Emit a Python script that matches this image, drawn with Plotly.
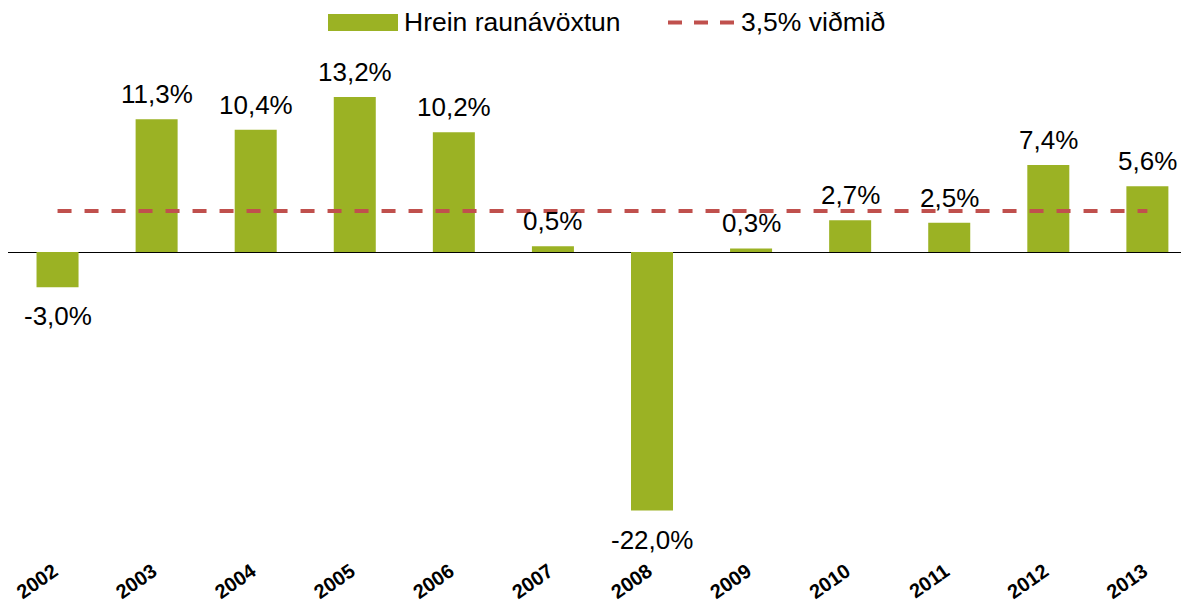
import plotly.graph_objects as go

years = ["2002", "2003", "2004", "2005", "2006", "2007", "2008", "2009", "2010", "2011", "2012", "2013"]
returns = [-3.0, 11.3, 10.4, 13.2, 10.2, 0.5, -22.0, 0.3, 2.7, 2.5, 7.4, 5.6]
benchmark = [3.5] * len(years)
labels = ["-3,0%", "11,3%", "10,4%", "13,2%", "10,2%", "0,5%", "-22,0%", "0,3%", "2,7%", "2,5%", "7,4%", "5,6%"]
series_names = ["Hrein raunávöxtun", "3,5% viðmið"]

OFF = 8  # page body margin
W, H = 1189 - OFF, 603 - OFF
ML, MR, MT, MB = 0, 0, 42, 48
pw = W - ML - MR
ph = H - MT - MB
zero_px = 252 - OFF
ppu = 11.75
ymax = (zero_px - MT) / ppu
ymin = -(H - MB - zero_px) / ppu

GREEN = "#9BB224"
RED = "#C0504D"
FONT = "Arial, Liberation Sans, sans-serif"

xs = list(range(len(years)))

fig = go.Figure()
fig.add_trace(go.Bar(x=xs, y=returns, width=0.424, marker=dict(color=GREEN, line=dict(width=0)),
                     name=series_names[0], showlegend=False))
fig.add_trace(go.Scatter(x=xs, y=benchmark, mode="lines", name=series_names[1], showlegend=False,
                         line=dict(color=RED, width=4, dash="14px,13px")))

for x, v, t in zip(xs, returns, labels):
    if v >= 0:
        fig.add_annotation(x=x, y=v, text=t, showarrow=False, yanchor="bottom", yshift=8,
                           font=dict(size=26, color="black", family=FONT))
    else:
        fig.add_annotation(x=x, y=v, text=t, showarrow=False, yanchor="top", yshift=-12,
                           font=dict(size=26, color="black", family=FONT))

def px_x(p):
    return (p - OFF - ML) / pw

def px_y(p):
    return (H - MB - (p - OFF)) / ph

# manual legend
fig.add_shape(type="rect", xref="paper", yref="paper", x0=px_x(328), x1=px_x(398), y0=px_y(31), y1=px_y(14),
              fillcolor=GREEN, line=dict(width=0))
fig.add_annotation(xref="paper", yref="paper", x=px_x(402), y=px_y(22.5), text=series_names[0],
                   showarrow=False, xanchor="left", yanchor="middle",
                   font=dict(size=26.5, color="black", family=FONT))
fig.add_shape(type="line", xref="paper", yref="paper", x0=px_x(668), x1=px_x(736), y0=px_y(22.5), y1=px_y(22.5),
              line=dict(color=RED, width=4, dash="14px,12px"))
fig.add_annotation(xref="paper", yref="paper", x=px_x(739), y=px_y(22.5), text=series_names[1],
                   showarrow=False, xanchor="left", yanchor="middle",
                   font=dict(size=26.5, color="black", family=FONT))

fig.update_layout(
    width=W, height=H,
    margin=dict(l=ML, r=MR, t=MT, b=MB, pad=0, autoexpand=False),
    plot_bgcolor="white", paper_bgcolor="white",
    showlegend=False,
    xaxis=dict(range=[-0.5, 11.42], tickmode="array", tickvals=xs, ticktext=years,
               tickangle=-35, showgrid=False, showline=False, ticks="", zeroline=False,
               automargin=False, ticklabelstandoff=0, ticklabelshift=-4,
               tickfont=dict(size=20, color="black", family=FONT, weight="bold")),
    yaxis=dict(range=[ymin, ymax], showgrid=False, showticklabels=False, ticks="", showline=False,
               zeroline=True, zerolinecolor="black", zerolinewidth=1),
)

fig.write_html("out.html")
